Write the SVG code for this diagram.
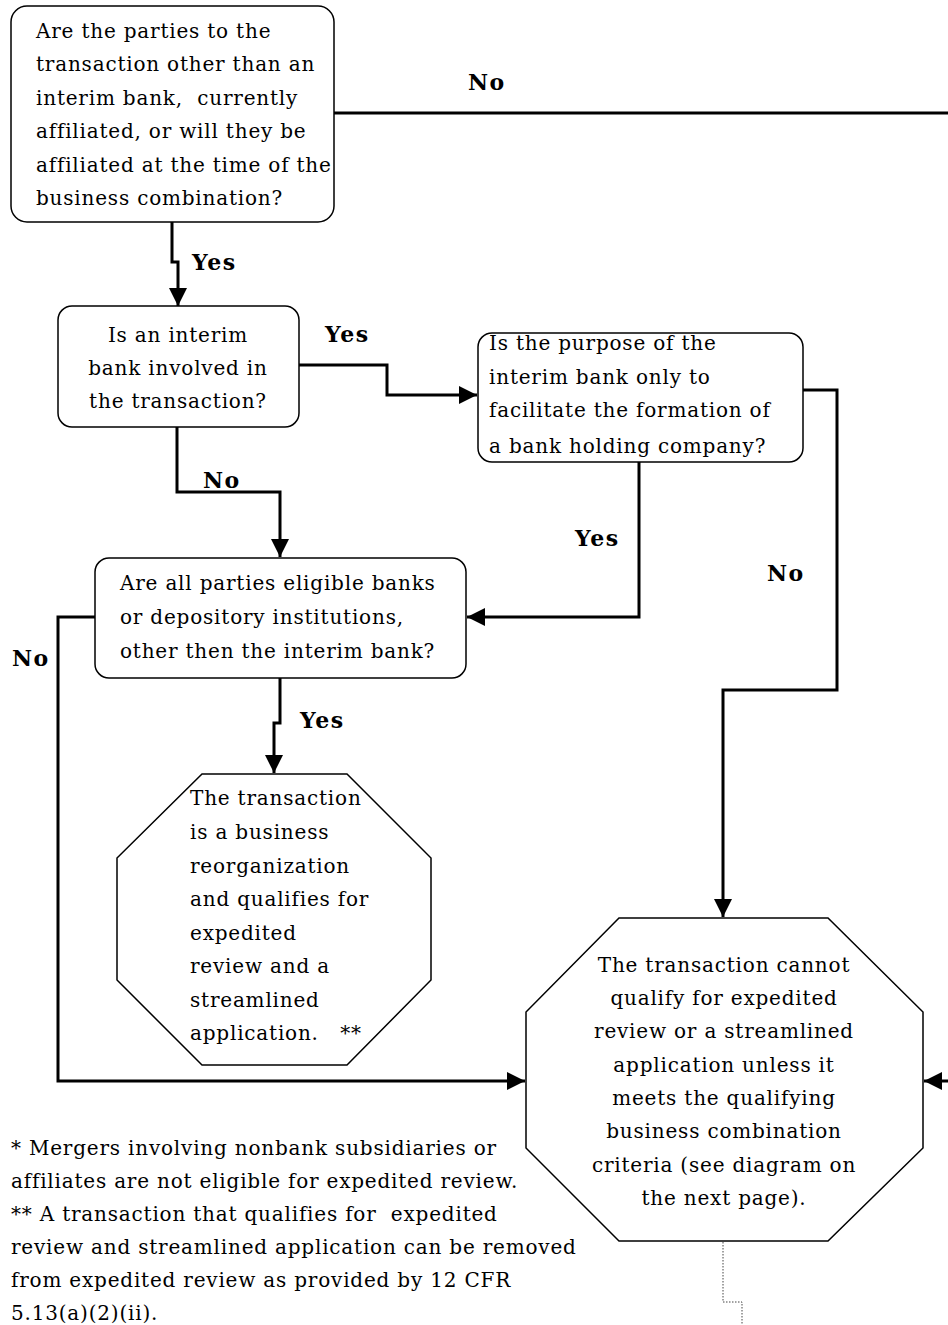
<svg xmlns="http://www.w3.org/2000/svg" width="948" height="1325" viewBox="0 0 948 1325">
<style>
  .box { fill: #fff; stroke: #000; stroke-width: 1.5; }
  .t { font-family: "DejaVu Serif", "Liberation Serif", serif; font-size: 20px; fill: #000; letter-spacing: 0.8px; }
  .c { text-anchor: middle; }
  .lbl { font-family: "DejaVu Serif", "Liberation Serif", serif; font-size: 22px; font-weight: bold; fill: #000; letter-spacing: 1.5px; }
  .conn { fill: none; stroke: #000; stroke-width: 3; }
  .dot { fill: none; stroke: #444; stroke-width: 1; stroke-dasharray: 1.5 1.5; }
</style>
<defs>
  <marker id="arr" markerWidth="20" markerHeight="20" refX="18" refY="9" orient="auto" markerUnits="userSpaceOnUse">
    <path d="M0,0 L18,9 L0,18 z" fill="#000"/>
  </marker>
</defs>
<rect width="948" height="1325" fill="#fff"/>

<g id="connectors">
  <path class="conn" d="M334,113 H954 V1081 H924" marker-end="url(#arr)"/>
  <path class="conn" d="M172,222 V262 H178 V306" marker-end="url(#arr)"/>
  <path class="conn" d="M299,365 H387 V395 H477" marker-end="url(#arr)"/>
  <path class="conn" d="M177,427 V492 H280 V557" marker-end="url(#arr)"/>
  <path class="conn" d="M639,462 V617 H467" marker-end="url(#arr)"/>
  <path class="conn" d="M803,390 H837 V690 H723 V917" marker-end="url(#arr)"/>
  <path class="conn" d="M95,617 H58 V1081 H525" marker-end="url(#arr)"/>
  <path class="conn" d="M280,678 V723 H274 V773" marker-end="url(#arr)"/>
  <path class="dot" d="M723,1242 V1302 H742 V1325"/>
</g>

<g id="labels">
  <text class="lbl" x="468" y="90">No</text>
  <text class="lbl" x="192" y="270">Yes</text>
  <text class="lbl" x="325" y="342">Yes</text>
  <text class="lbl" x="203" y="488">No</text>
  <text class="lbl" x="575" y="546">Yes</text>
  <text class="lbl" x="767" y="581">No</text>
  <text class="lbl" x="12" y="666">No</text>
  <text class="lbl" x="300" y="728">Yes</text>
</g>

<g id="node-affiliated">
  <rect class="box" x="11" y="6" width="323" height="216" rx="16" ry="16"/>
  <text class="t" x="36" y="38">Are the parties to the</text>
  <text class="t" x="36" y="71">transaction other than an</text>
  <text class="t" x="36" y="105" xml:space="preserve">interim bank,  currently</text>
  <text class="t" x="36" y="138">affiliated, or will they be</text>
  <text class="t" x="36" y="172">affiliated at the time of the</text>
  <text class="t" x="36" y="205">business combination?</text>
</g>

<g id="node-interim">
  <rect class="box" x="58" y="306" width="241" height="121" rx="14" ry="14"/>
  <text class="t c" x="178" y="342">Is an interim</text>
  <text class="t c" x="178" y="375">bank involved in</text>
  <text class="t c" x="178" y="408">the transaction?</text>
</g>

<g id="node-purpose">
  <rect class="box" x="478" y="333" width="325" height="129" rx="14" ry="14"/>
  <text class="t" x="489" y="350">Is the purpose of the</text>
  <text class="t" x="489" y="384">interim bank only to</text>
  <text class="t" x="489" y="417">facilitate the formation of</text>
  <text class="t" x="489" y="453">a bank holding company?</text>
</g>

<g id="node-eligible">
  <rect class="box" x="95" y="558" width="371" height="120" rx="14" ry="14"/>
  <text class="t" x="120" y="590">Are all parties eligible banks</text>
  <text class="t" x="120" y="624">or depository institutions,</text>
  <text class="t" x="120" y="658">other then the interim bank?</text>
</g>

<g id="node-reorganization">
  <polygon class="box" points="202,774 347,774 431,858 431,980 347,1065 202,1065 117,980 117,858"/>
  <text class="t" x="190" y="805">The transaction</text>
  <text class="t" x="190" y="839">is a business</text>
  <text class="t" x="190" y="873">reorganization</text>
  <text class="t" x="190" y="906">and qualifies for</text>
  <text class="t" x="190" y="940">expedited</text>
  <text class="t" x="190" y="973">review and a</text>
  <text class="t" x="190" y="1007">streamlined</text>
  <text class="t" x="190" y="1040" xml:space="preserve">application.   **</text>
</g>

<g id="node-cannot">
  <polygon class="box" points="619,918 828,918 923,1012 923,1148 828,1241 619,1241 526,1148 526,1012"/>
  <text class="t c" x="724" y="972">The transaction cannot</text>
  <text class="t c" x="724" y="1005">qualify for expedited</text>
  <text class="t c" x="724" y="1038">review or a streamlined</text>
  <text class="t c" x="724" y="1072">application unless it</text>
  <text class="t c" x="724" y="1105">meets the qualifying</text>
  <text class="t c" x="724" y="1138">business combination</text>
  <text class="t c" x="724" y="1172">criteria (see diagram on</text>
  <text class="t c" x="724" y="1205">the next page).</text>
</g>

<g id="footnotes">
  <text class="t" x="11" y="1155">* Mergers involving nonbank subsidiaries or</text>
  <text class="t" x="11" y="1188">affiliates are not eligible for expedited review.</text>
  <text class="t" x="11" y="1221" xml:space="preserve">** A transaction that qualifies for  expedited</text>
  <text class="t" x="11" y="1254">review and streamlined application can be removed</text>
  <text class="t" x="11" y="1287">from expedited review as provided by 12 CFR</text>
  <text class="t" x="11" y="1320">5.13(a)(2)(ii).</text>
</g>
</svg>
